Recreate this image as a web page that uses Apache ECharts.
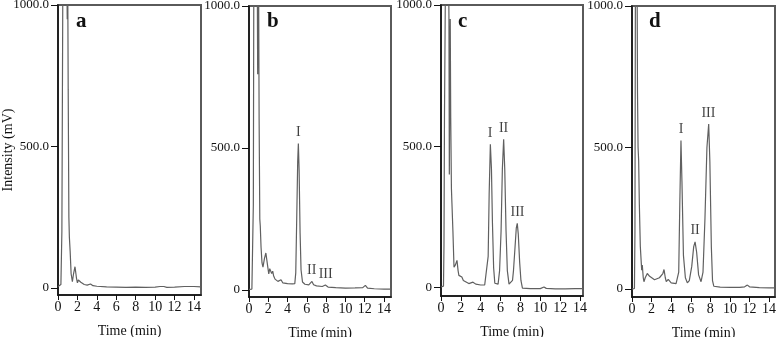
<!DOCTYPE html>
<html>
<head>
<meta charset="utf-8">
<script src="https://cdn.jsdelivr.net/npm/echarts@6/dist/echarts.min.js"></script>
<style>
html,body{margin:0;padding:0;background:#fff;}
#chart{width:776px;height:337px;}
</style>
</head>
<body>
<div id="chart"></div>
<script>
// ---- Data (time in min, intensity in mV) ----
const panelNames = ['a', 'b', 'c', 'd'];

const tA = [0,0.2,0.3,0.35,0.4,0.5,0.7,0.9,0.95,1.0,1.05,1.12,1.17,1.25,1.35,1.48,1.6,1.75,1.9,2.0,2.1,2.2,2.35,2.5,2.7,3.0,3.35,3.6,4.0,5.0,6.0,7.0,8.0,9.0,10.0,10.5,10.7,10.9,11.2,12.0,13.0,14.0,14.72];
const vA = [5,8,12,5,200,1100,1300,1150,950,1100,700,250,180,130,50,22,50,75,35,18,28,35,20,22,12,10,14,8,6,4,3,2,3,2,3,5,11,5,2,3,5,5,4];

const tB = [0,0.3,0.4,0.45,0.5,0.7,0.86,0.9,0.94,1.0,1.05,1.12,1.17,1.25,1.35,1.45,1.6,1.75,1.85,1.95,2.05,2.15,2.22,2.35,2.46,2.55,2.7,3.0,3.32,3.5,4.0,4.5,4.75,4.85,4.95,5.05,5.12,5.2,5.3,5.4,5.55,5.8,6.2,6.4,6.53,6.7,7.0,7.6,7.92,8.2,9.0,10.0,11.0,11.8,12.07,12.3,13.0,14.0,14.73];
const vB = [2,3,8,300,1100,1300,1100,760,1100,1050,600,250,225,150,95,80,110,130,135,80,56,75,82,58,66,50,38,30,36,25,22,21,22,60,250,450,516,420,200,70,28,20,18,25,30,18,14,12,17,10,8,6,7,8,16,6,4,3,3];

const tC = [0,0.25,0.3,0.35,0.45,0.6,0.75,0.8,0.84,0.88,0.93,0.98,1.05,1.1,1.2,1.31,1.45,1.61,1.72,1.8,1.95,2.1,2.25,2.4,2.8,3.22,3.5,4.0,4.4,4.6,4.75,4.85,4.97,5.08,5.18,5.3,5.42,5.6,5.75,5.9,6.05,6.18,6.31,6.42,6.55,6.68,6.85,7.05,7.2,7.3,7.45,7.58,7.68,7.78,7.92,8.05,8.2,9.0,10.0,10.37,10.6,11.5,12.5,13.5,14.3];
const vC = [2,5,150,600,1100,1300,1150,960,400,700,950,600,350,300,200,72,80,96,60,43,40,37,25,20,14,19,12,9,9,12,110,330,507,420,230,70,15,8,12,60,200,420,525,420,200,60,12,10,25,60,140,210,227,190,90,25,-2,-4,-4,2,-3,-5,-5,-4,-4];

const tD = [0,0.25,0.3,0.35,0.45,0.52,0.56,0.62,0.68,0.75,0.85,0.99,1.05,1.09,1.15,1.22,1.35,1.56,1.8,2.0,2.3,2.5,2.8,3.0,3.15,3.27,3.4,3.5,3.7,3.8,4.0,4.2,4.5,4.65,4.77,4.88,5.0,5.1,5.25,5.45,5.65,5.85,6.1,6.3,6.44,6.6,6.8,7.05,7.25,7.45,7.65,7.83,7.95,8.1,8.22,8.35,9.0,10.0,11.0,11.5,11.78,12.0,13.0,14.0,14.6];
const vD = [0,2,200,1100,1300,1100,700,500,454,300,150,67,85,90,40,26,40,55,45,38,33,32,40,45,55,69,40,26,34,32,22,20,19,22,60,300,525,380,120,40,22,30,80,150,167,130,50,26,60,250,500,583,450,150,30,10,7,6,6,8,14,8,5,4,4];

// Peak labels: name, retention time, apex intensity
const peakNames = ['I', 'II', 'III'];
const peakT = [null, [5.12, 6.5, 7.95], [4.95, 6.3, 7.7], [5.0, 6.44, 7.8]];
const peakV = [null, [516, 29, 17], [507, 525, 227], [525, 167, 583]];

// Axis ticks
const xTicks = [0, 2, 4, 6, 8, 10, 12, 14];
const yTicks = [0, 500, 1000];
const yTickLabels = ['0', '500.0', '1000.0'];

// ---- Layout ----
const grids = [
  {left: 58, top: 5, width: 143, height: 290},
  {left: 249, top: 6, width: 142, height: 291},
  {left: 441, top: 5, width: 142, height: 291},
  {left: 632, top: 6, width: 143, height: 291}
];
const xMax = [14.72, 14.73, 14.3, 14.6];
const yMin = [-25, -25, -30, -28];
const letterPos = [[76, 11], [267, 11], [458, 11], [649, 11]];

const times = [tA, tB, tC, tD];
const vals = [vA, vB, vC, vD];
const FONT = '"Liberation Serif", "Times New Roman", serif';

const option = {
  animation: false,
  backgroundColor: '#fff',
  title: panelNames.map((n, i) => ({
    text: n, left: letterPos[i][0], top: letterPos[i][1], padding: 0,
    textStyle: {fontFamily: FONT, fontSize: 21, fontWeight: 'bold', color: '#111'}
  })),
  grid: grids.map(g => Object.assign({show: true, borderColor: '#5a5a5a', borderWidth: 2,
    backgroundColor: 'transparent', containLabel: false, outerBoundsMode: 'none'}, g)),
  xAxis: grids.map((g, i) => ({
    type: 'value', gridIndex: i, min: 0, max: xMax[i],
    name: 'Time (min)', nameLocation: 'middle', nameGap: 29, nameMoveOverlap: false,
    nameTextStyle: {fontFamily: FONT, fontSize: 14, color: '#111'},
    axisLine: {show: true, onZero: false, lineStyle: {color: '#111', width: 1.5}},
    axisTick: {show: true, length: 5, customValues: xTicks, lineStyle: {color: '#111'}},
    axisLabel: {customValues: xTicks, fontFamily: FONT, fontSize: 14, color: '#111', margin: 5},
    splitLine: {show: false}
  })),
  yAxis: grids.map((g, i) => ({
    type: 'value', gridIndex: i, min: yMin[i], max: 1000,
    name: i === 0 ? 'Intensity (mV)' : '', nameLocation: 'middle', nameGap: 43, nameRotate: 90,
    nameMoveOverlap: false,
    nameTextStyle: {fontFamily: FONT, fontSize: 14, color: '#111'},
    axisLine: {show: true, onZero: false, lineStyle: {color: '#111', width: 1.5}},
    axisTick: {show: true, length: 7, customValues: yTicks, lineStyle: {color: '#111'}},
    axisLabel: {customValues: yTicks, fontFamily: FONT, fontSize: 13, color: '#111', margin: 9,
      formatter: v => yTickLabels[yTicks.indexOf(v)]},
    splitLine: {show: false}
  })),
  series: []
};

for (let i = 0; i < 4; i++) {
  option.series.push({
    type: 'line', xAxisIndex: i, yAxisIndex: i, showSymbol: false, symbol: 'none',
    clip: true, smooth: false,
    lineStyle: {color: '#606060', width: 1.2},
    data: times[i].map((t, k) => [t, vals[i][k]])
  });
  if (peakT[i]) {
    option.series.push({
      type: 'scatter', xAxisIndex: i, yAxisIndex: i, symbolSize: 0, silent: true,
      data: peakT[i].map((t, k) => ({value: [t, peakV[i][k]], name: peakNames[k]})),
      label: {show: true, position: 'top', distance: 4, formatter: p => p.name,
        fontFamily: FONT, fontSize: 14, color: '#111'}
    });
  }
}

const chart = echarts.init(document.getElementById('chart'), null, {renderer: 'canvas'});
chart.setOption(option);
</script>
</body>
</html>
